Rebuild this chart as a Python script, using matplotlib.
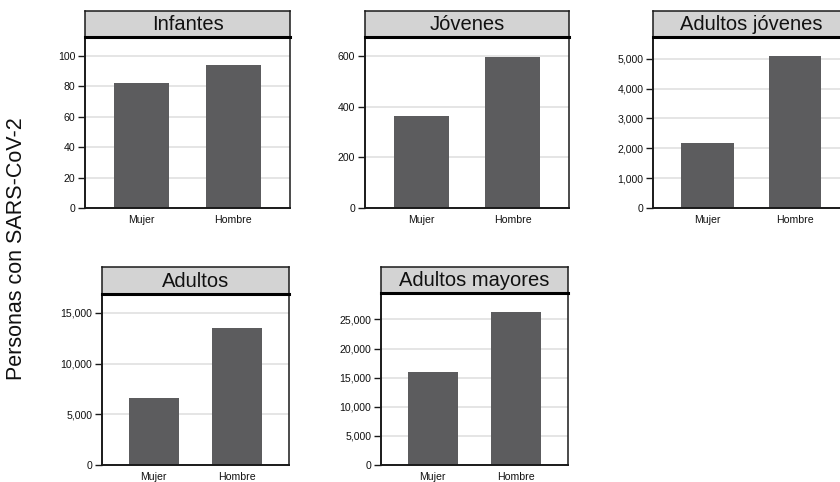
import matplotlib
matplotlib.use("Agg")
import matplotlib.pyplot as plt
from matplotlib.ticker import FuncFormatter

plt.rcParams['font.family'] = ['Liberation Sans', 'DejaVu Sans']

# Data: people with SARS-CoV-2 by age group and sex
sexes = ["Mujer", "Hombre"]
groups = ["Infantes", "Jóvenes", "Adultos jóvenes", "Adultos", "Adultos mayores"]
infantes = [82, 94]
jovenes = [363, 597]
adultos_jovenes = [2183, 5090]
adultos = [6650, 13530]
adultos_mayores = [15914, 26260]
values = [infantes, jovenes, adultos_jovenes, adultos, adultos_mayores]

yticks = [
    [0, 20, 40, 60, 80, 100],
    [0, 200, 400, 600],
    [0, 1000, 2000, 3000, 4000, 5000],
    [0, 5000, 10000, 15000],
    [0, 5000, 10000, 15000, 20000, 25000],
]

W, H = 840, 482
fig = plt.figure(figsize=(W / 100, H / 100), dpi=100)

# panel boxes in pixels: left, right, header top, plot top, plot bottom
boxes = [
    (85, 290, 11, 37, 208),
    (365, 569, 11, 37, 208),
    (653, 849, 11, 37, 208),
    (102, 289, 267, 294, 465),
    (381, 568, 267, 293, 465),
]

bar_color = "#5c5c5e"
grid_color = "#dedede"
frame_color = "#1a1a1a"
header_color = "#d3d3d3"


def fig_rect(l, r, t, b):
    return [l / W, 1 - b / H, (r - l) / W, (b - t) / H]


for name, vals, ticks, (l, r, ht, t, b) in zip(groups, values, yticks, boxes):
    ax = fig.add_axes(fig_rect(l, r, t, b))
    ax.set_axisbelow(True)
    ax.bar([0, 1], vals, width=0.6, color=bar_color, zorder=2)
    ax.set_xlim(-0.62, 1.62)
    top = max(max(vals), ticks[-1]) * 1.125
    ax.set_ylim(0, top)
    ax.set_yticks(ticks)
    ax.yaxis.set_major_formatter(FuncFormatter(lambda v, p: f"{int(v):,}"))
    ax.set_xticks([0, 1])
    ax.set_xticklabels(sexes)
    ax.tick_params(axis='x', length=0, pad=5, labelsize=7.6, colors="#111111")
    ax.tick_params(axis='y', length=5, width=1, pad=2, labelsize=7.6,
                   colors="#111111", color=frame_color)
    ax.yaxis.grid(True, color=grid_color, linewidth=1.1)
    for s in ax.spines.values():
        s.set_color(frame_color)
        s.set_linewidth(1.1)
    ax.spines['left'].set_linewidth(1.4)
    ax.spines['bottom'].set_linewidth(1.4)

    # header strip with the group name
    hx = fig.add_axes(fig_rect(l, r, ht, t))
    hx.set_facecolor(header_color)
    hx.set_xticks([])
    hx.set_yticks([])
    for s in hx.spines.values():
        s.set_color(frame_color)
        s.set_linewidth(1.1)
    hx.spines['bottom'].set_linewidth(2.2)
    hx.spines['bottom'].set_color("#000000")
    hx.text(0.5, 0.48, name, ha='center', va='center', fontsize=14.5,
            color="#111111", transform=hx.transAxes)

fig.text(17 / W, 1 - 249 / H, "Personas con SARS-CoV-2", rotation=90,
         ha='center', va='center', fontsize=15.5, color="#111111")

fig.savefig("out.png", dpi=100, facecolor="white")
